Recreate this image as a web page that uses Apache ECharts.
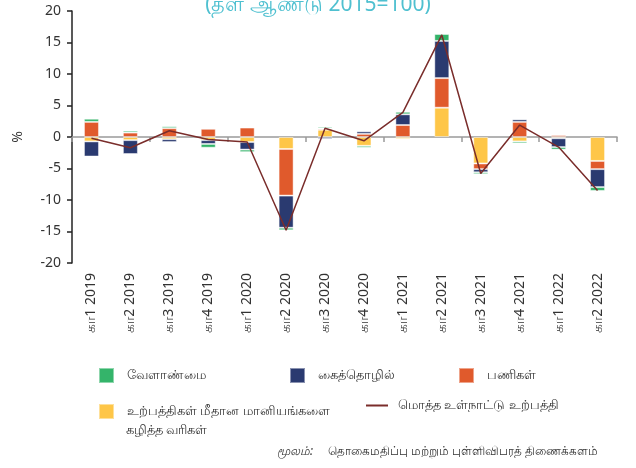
<!DOCTYPE html>
<html>
<head>
<meta charset="utf-8">
<script src="https://cdn.jsdelivr.net/npm/echarts@6/dist/echarts.min.js"></script>
<style>
    html, body { margin: 0; padding: 0; background: #fff; }
    #chart { width: 636px; height: 468px; }
</style>
</head>
<body>
<div id="chart"></div>
<script>
    // காலாண்டுகள்
    const quarters = ['கா1 2019', 'கா2 2019', 'கா3 2019', 'கா4 2019', 'கா1 2020', 'கா2 2020', 'கா3 2020',
                      'கா4 2020', 'கா1 2021', 'கா2 2021', 'கா3 2021', 'கா4 2021', 'கா1 2022', 'கா2 2022']
    // பங்களிப்புகள் (%)
    const taxes    = [-0.7, -0.5, -0.35, -0.5, -0.8, -1.9, 1.15, -1.4, -0.3, 4.65, -4.2, -0.7, -0.2, -3.8]
    const services = [2.4, 0.7, 1.4, 1.3, 1.5, -7.4, 0.2, 0.5, 1.9, 4.7, -0.9, 2.4, 0.3, -1.3]
    const industry = [-2.4, -2.2, -0.45, -0.6, -1.2, -5.1, -0.3, 0.4, 1.7, 5.9, -0.5, 0.4, -1.4, -2.85]
    const agri     = [0.5, 0.3, 0.3, -0.6, -0.4, -0.4, 0.25, -0.3, 0.4, 1.1, -0.3, -0.3, -0.4, -0.6]
    const gdp      = [-0.2, -1.7, 1.0, -0.4, -0.8, -14.8, 1.4, -0.6, 3.9, 16.2, -5.8, 1.9, -1.6, -8.5]
    const yTicks   = { min: -20, max: 20, step: 5 }

    const names = {
        agri: 'வேளாண்மை',
        industry: 'கைத்தொழில்',
        services: 'பணிகள்',
        taxes: 'உற்பத்திகள் மீதான மானியங்களை',
        gdp: 'மொத்த உள்நாட்டு உற்பத்தி'
    }
    const colors = { agri: '#34b46a', industry: '#2a3a70', services: '#e05a2c', taxes: '#fec648', gdp: '#7a2d2b' }

    const font = "'Noto Sans', 'DejaVu Sans', sans-serif"
    const txt = '#333'

    const chart = echarts.init(document.getElementById('chart'))

    const bar = (key, data) => ({
        name: names[key],
        type: 'bar',
        stack: 'all',
        barWidth: 15,
        data,
        itemStyle: { color: colors[key], borderColor: 'rgba(255,255,255,0.45)', borderWidth: 1 }
    })

    // ஒவ்வொரு குறிப்பும் தனி legend
    const legendItem = (name, left, top, icon, w, h, gap = 8) => ({
        data: [name],
        left, top,
        padding: 0,
        icon,
        itemWidth: w,
        itemHeight: h,
        selectedMode: false,
        textStyle: { fontFamily: font, fontSize: 12.5, color: txt, padding: [0, 0, 0, gap] }
    })

    chart.setOption({
        animation: false,
        title: {
            text: '(தள ஆண்டு 2015=100)',
            left: 'center',
            top: -10,
            textStyle: { fontFamily: font, fontSize: 21, fontWeight: 'normal', color: '#4fc0d0' }
        },
        grid: { left: 72, right: 19, top: 11, bottom: 205 },
        legend: [
            legendItem(names.agri, 98, 367, 'rect', 15, 15),
            legendItem(names.industry, 289, 367, 'rect', 15, 15),
            legendItem(names.services, 458, 367, 'rect', 15, 15),
            legendItem(names.taxes, 98, 403, 'rect', 15, 15),
            legendItem(names.gdp, 366, 399, 'rect', 22, 2, 5)
        ],
        graphic: [
            { type: 'text', left: 126, top: 424, style: { text: 'கழித்த வரிகள்', font: '12.5px ' + font, fill: txt } },
            { type: 'text', left: 277, top: 446, style: { text: 'மூலம்:', font: 'italic 12px ' + font, fill: txt } },
            { type: 'text', left: 328, top: 446, style: { text: 'தொகைமதிப்பு மற்றும் புள்ளிவிபரத் திணைக்களம்', font: '12px ' + font, fill: txt } }
        ],
        xAxis: [
            {
                type: 'category',
                data: quarters,
                axisLine: { onZero: true, lineStyle: { color: '#9a9a9a', width: 1.5 } },
                axisTick: { show: true, length: 5, lineStyle: { color: '#9a9a9a', width: 1.5 } },
                axisLabel: { show: false }
            },
            {
                type: 'category',
                data: quarters,
                position: 'bottom',
                axisLine: { show: false, onZero: false },
                axisTick: { show: false },
                axisLabel: { rotate: 90, margin: 10, fontFamily: font, fontSize: 14, color: txt, interval: 0 }
            }
        ],
        yAxis: {
            type: 'value',
            min: yTicks.min,
            max: yTicks.max,
            interval: yTicks.step,
            name: '%',
            nameLocation: 'middle',
            nameGap: 47,
            nameRotate: 90,
            nameTextStyle: { fontFamily: font, fontSize: 14, color: txt },
            axisLine: { show: true, lineStyle: { color: '#222', width: 1.5 } },
            axisTick: { show: true, length: 5, lineStyle: { color: '#222', width: 1.5 } },
            axisLabel: { margin: 11, fontFamily: font, fontSize: 14, color: txt },
            splitLine: { show: false }
        },
        series: [
            bar('taxes', taxes),
            bar('services', services),
            bar('industry', industry),
            bar('agri', agri),
            {
                name: names.gdp,
                type: 'line',
                data: gdp,
                symbol: 'none',
                z: 5,
                lineStyle: { color: colors.gdp, width: 1.5 },
                itemStyle: { color: colors.gdp }
            }
        ]
    })
</script>
</body>
</html>
